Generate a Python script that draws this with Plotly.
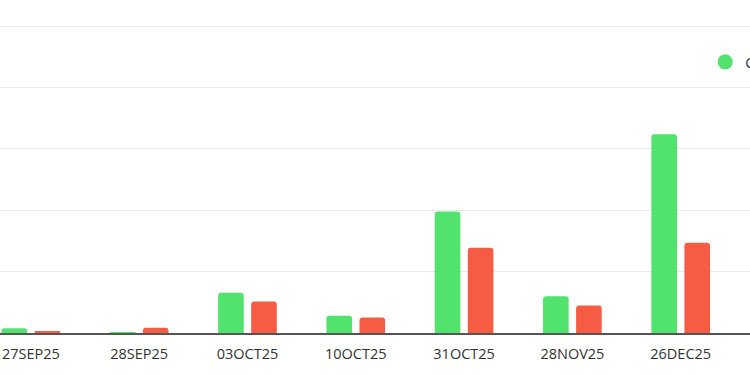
import plotly.graph_objects as go

expiries = ["27SEP25", "28SEP25", "03OCT25", "10OCT25", "31OCT25", "28NOV25", "26DEC25"]
calls = [78, 13, 655, 280, 1980, 600, 3238]
puts = [20, 85, 513, 252, 1388, 448, 1469]

GREEN = "#52e36f"
RED = "#f65c44"

fig = go.Figure()
fig.add_trace(go.Bar(x=expiries, y=calls, name="Calls", marker=dict(color=GREEN, line=dict(width=0)),
                     showlegend=False))
fig.add_trace(go.Bar(x=expiries, y=puts, name="Puts", marker=dict(color=RED, line=dict(width=0)),
                     showlegend=False))
# legend entries with circle symbols
fig.add_trace(go.Scatter(x=[None], y=[None], mode="markers", name="Calls",
                         marker=dict(color=GREEN, size=15, symbol="circle")))
fig.add_trace(go.Scatter(x=[None], y=[None], mode="markers", name="Puts",
                         marker=dict(color=RED, size=15, symbol="circle")))

fig.update_layout(
    width=750, height=375,
    margin=dict(l=0, r=0, t=20, b=42, autoexpand=False),
    paper_bgcolor="white", plot_bgcolor="white",
    barmode="group", bargap=0.39, bargroupgap=0.225, barcornerradius=3,
    font=dict(family="Open Sans", size=14.5, color="#333333"),
    legend=dict(orientation="h", x=0.9403, xanchor="left", y=0.866, yanchor="middle",
                font=dict(size=14.5, color="#2a2f45"), bgcolor="rgba(0,0,0,0)"),
    xaxis=dict(type="category", range=[-0.285, 6.64], showgrid=False, showline=True,
               linecolor="#555555", linewidth=1.5, ticks="", ticklabelstandoff=7,
               tickfont=dict(size=14.5, color="#333333"), fixedrange=True),
    yaxis=dict(range=[0, 5097.7], dtick=1000, tick0=0, showgrid=True, gridcolor="#e9e9e9",
               gridwidth=1, showticklabels=False, zeroline=False, showline=False, fixedrange=True),
)

fig.write_html("out.html")
